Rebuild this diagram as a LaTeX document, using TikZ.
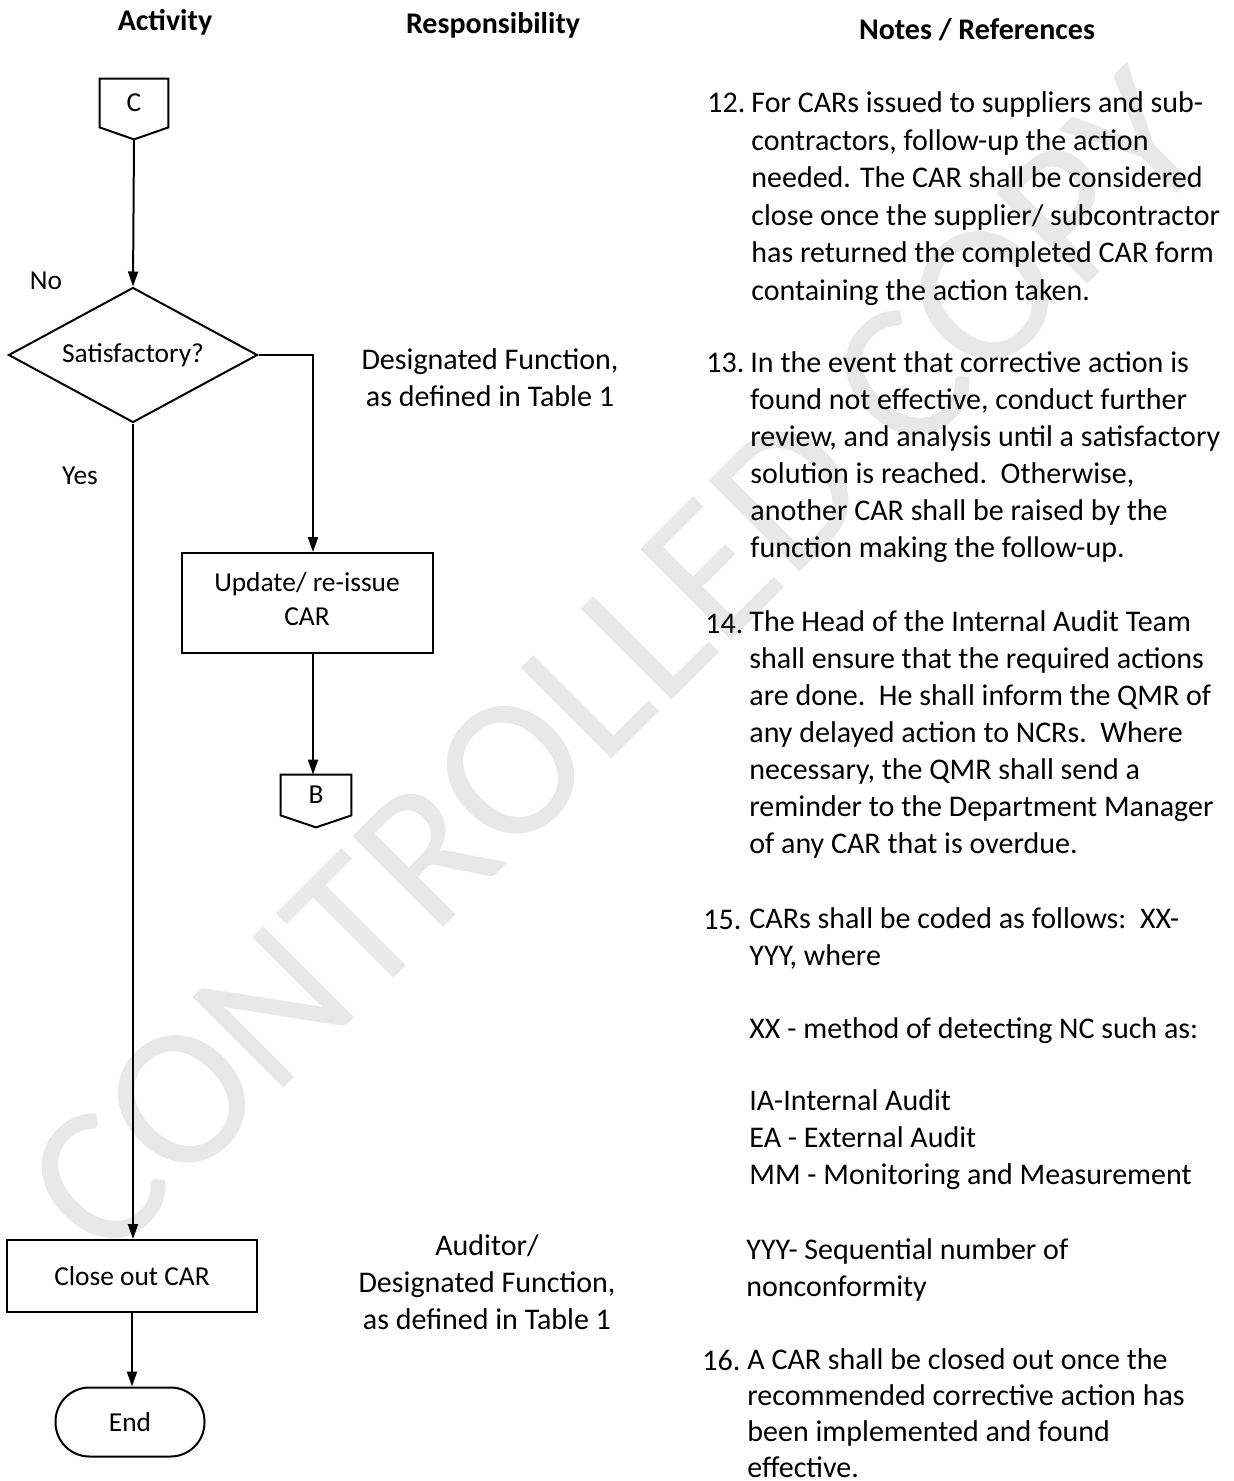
\documentclass[tikz,border=0pt]{standalone}
\usepackage{fontspec}
\setmainfont{Carlito}
\usetikzlibrary{shapes.geometric,arrows.meta,positioning}

\tikzset{
  flowtxt/.style={font=\fontsize{13.7}{17}\selectfont},
  box/.style={draw, flowtxt, line width=1pt, minimum width=125pt, minimum height=36pt, align=center, inner sep=2pt},
  decision/.style={draw, flowtxt, diamond, aspect=1.84, line width=1pt, minimum width=124.5pt, minimum height=67.5pt, inner sep=0pt},
  term/.style={draw, flowtxt, line width=1pt, rounded corners=17pt, minimum width=74.5pt, minimum height=34.5pt},
  conn/.style={flowtxt, minimum width=34pt, minimum height=24pt, inner sep=0pt},
  flow/.style={line width=1pt, -{Triangle[length=7.5pt,width=5pt]}},
  note/.style={anchor=base west, align=left, inner sep=0pt},
  hdr/.style={font=\fontsize{15}{18.5}\selectfont\bfseries},
}

\begin{document}
\begin{tikzpicture}
		[x=0.5pt, y=-0.5pt, font=\fontsize{15}{18.5}\selectfont]
		\useasboundingbox (0,0) rectangle (1234,1481);
		% watermark
		\node[rotate=45, text=black!9, font=\fontsize{100}{100}\selectfont] (wm) at (617,664) {CONTROLLED COPY};
		% column heads
		\node[hdr] (hact) at (165,22) {Activity};
		\node[hdr] (hresp) at (493,25) {Responsibility};
		\node[hdr] (hnotes) at (977,30) {Notes / References};
		% flow
		\node[conn] (C) at (134,103) {C};
		\draw[line width=1pt] (C.north west) -- (C.north east) -- (C.south east) -- ([yshift=-6pt]C.south) -- (C.south west) -- cycle;
		\coordinate (Ctip) at ([yshift=-6pt]C.south);
		\node[decision] (dec) at (133,355) {Satisfactory?};
		\node[flowtxt] (no) at (46,281) {No};
		\node[flowtxt] (yes) at (80,476) {Yes};
		\node[box, minimum width=125.5pt, minimum height=50pt, text depth=4pt] (upd) at (307,603) {Update/ re-issue\\CAR};
		\node[conn, minimum width=35pt, minimum height=20pt] (B) at (316,795) {B};
		\draw[line width=1pt] (B.north west) -- (B.north east) -- (B.south east) -- ([yshift=-6pt]B.south) -- (B.south west) -- cycle;
		\node[box] (close) at (132,1276) {Close out CAR};
		\node[term] (end) at (130,1422) {End};
		\draw[flow] (Ctip) -- (dec.north);
		\draw[flow] (dec.east) -| ([xshift=3pt]upd.north);
		\draw[flow] ([xshift=3pt]upd.south) -- ([xshift=3pt]upd.south |- B.north);
		\draw[flow] (dec.south) -- (dec.south |- close.north);
		\draw[flow] (close.south) -- (close.south |- end.north);
		% responsibility
		\node[align=center, anchor=base] (resp1) at (490,406) {Designated Function,\\as defined in Table 1};
		\node[align=center, anchor=base] (resp2) at (487,1329) {Auditor/\\Designated Function,\\as defined in Table 1};
		% notes (anchored on the last line)
		\node[note] (n12) at (707,113) {12.};
		\node[note, font=\fontsize{15}{18.7}\selectfont] (t12) at (751,300) {For CARs issued to suppliers and sub-\\contractors, follow-up the action\\needed. The CAR shall be considered\\close once the supplier/ subcontractor\\has returned the completed CAR form\\containing the action taken.};
		\node[note] (n13) at (706,372) {13.};
		\node[note] (t13) at (750,557) {In the event that corrective action is\\found not effective, conduct further\\review, and analysis until a satisfactory\\solution is reached.\ \ Otherwise,\\another CAR shall be raised by the\\function making the follow-up.};
		\node[note] (n14) at (705,633) {14.};
		\node[note] (t14) at (749,853) {The Head of the Internal Audit Team\\shall ensure that the required actions\\are done.\ \ He shall inform the QMR of\\any delayed action to NCRs.\ \ Where\\necessary, the QMR shall send a\\reminder to the Department Manager\\of any CAR that is overdue.};
		\node[note] (n15) at (703,929) {15.};
		\node[note] (t15) at (749,965) {CARs shall be coded as follows:\ \ XX-\\YYY, where};
		\node[note] (t15a) at (749,1038) {XX - method of detecting NC such as:};
		\node[note] (t15b) at (749,1184) {IA-Internal Audit\\EA - External Audit\\MM - Monitoring and Measurement};
		\node[note] (t15c) at (746,1296) {YYY- Sequential number of\\nonconformity};
		\node[note] (n16) at (702,1370) {16.};
		\node[note, font=\fontsize{15}{17.85}\selectfont] (t16) at (747,1477) {A CAR shall be closed out once the\\recommended corrective action has\\been implemented and found\\effective.};
	\end{tikzpicture}
\end{document}
